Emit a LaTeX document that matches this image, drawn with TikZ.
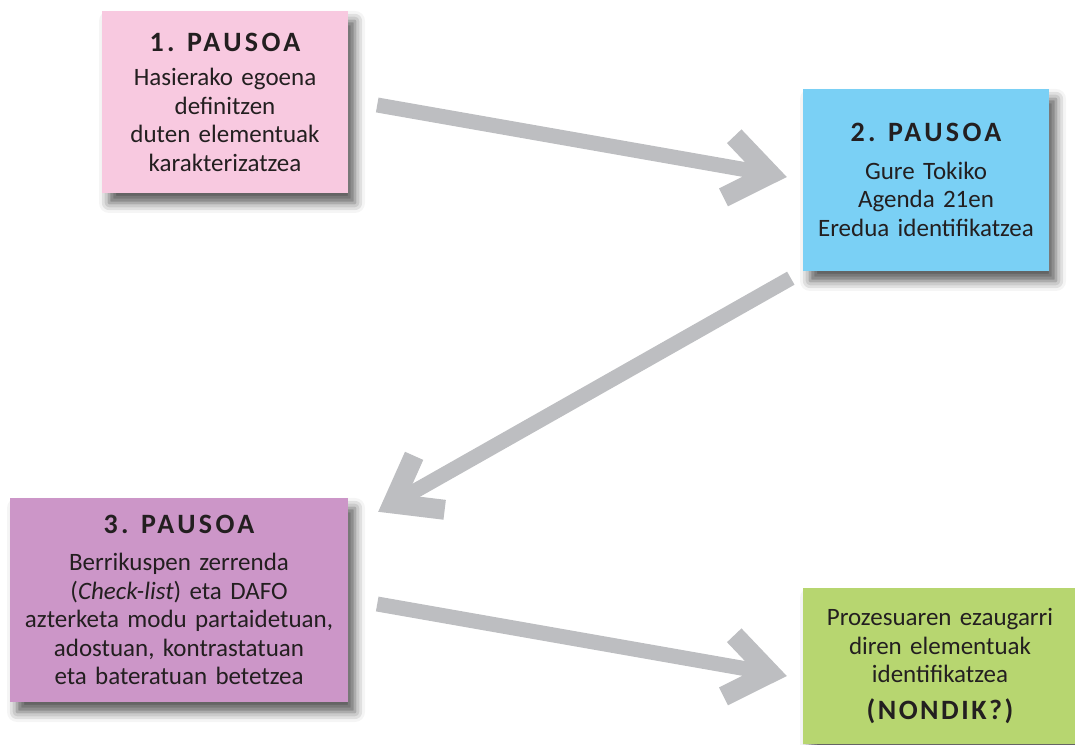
\documentclass[tikz,border=0pt]{standalone}
\usepackage{fontspec}
\setmainfont{Carlito}
\newfontfamily\titlefont[LetterSpace=12]{Carlito}
\newfontfamily\whencefont[LetterSpace=9]{Carlito}
\usetikzlibrary{arrows.meta,shadows.blur}

\definecolor{pausoPink}{HTML}{F8C9E0}
\definecolor{pausoBlue}{HTML}{7AD0F5}
\definecolor{pausoPurple}{HTML}{CC96C8}
\definecolor{pausoGreen}{HTML}{B7D670}
\definecolor{flowGray}{HTML}{BDBEC1}
\definecolor{inkText}{HTML}{231F20}

\newcommand\pausotitle[1]{{\titlefont\bfseries\fontsize{28}{30}\selectfont #1}}

\begin{document}
\begin{tikzpicture}[x=1pt,y=1pt,
    pauso/.style={inner sep=0pt, align=center, text=inkText,
      font=\fontsize{25}{28.5}\selectfont,
      blur shadow={shadow xshift=7pt, shadow yshift=-10pt,
        shadow blur radius=10pt, shadow opacity=65}},
    flow/.style={flowGray, line width=15pt,
      -{Straight Barb[length=42pt, width=62pt, line width=20pt, sharp]}}]
    \useasboundingbox (0,0) rectangle (1075,744);

    % steps
    \node[pauso, fill=pausoPink, text width=246pt, minimum height=182pt]
      (S1) at (225,642)
      {\pausotitle{1. PAUSOA}\\[6pt]
       Hasierako egoena\\definitzen\\duten elementuak\\karakterizatzea};
    \node[pauso, fill=pausoBlue, text width=246pt, minimum height=182pt]
      (S2) at (926,564)
      {\pausotitle{2. PAUSOA}\\[9pt]
       Gure Tokiko\\Agenda 21en\\Eredua identifikatzea};
    \node[pauso, fill=pausoPurple, text width=338pt, minimum height=204pt]
      (S3) at (179,144)
      {\pausotitle{3. PAUSOA}\\[9pt]
       Berrikuspen zerrenda\\(\textit{Check-list}) eta DAFO\\
       azterketa modu partaidetuan,\\adostuan, kontrastatuan\\
       eta bateratuan betetzea};
    \node[pauso, fill=pausoGreen, text width=274pt, minimum height=156pt]
      (S4) at (940,78)
      {Prozesuaren ezaugarri\\diren elementuak\\identifikatzea\\[8pt]
       {\whencefont\bfseries\fontsize{28}{30}\selectfont (NONDIK?)}};

    % connecting arrows
    \draw[flow] ([shift={(29,-3)}]S1.east) -- ([shift={(-16,3)}]S2.west);
    \draw[flow] ([shift={(-12,-7)}]S2.south west)
      -- ([shift={(30,-14)}]S3.north east);
    \draw[flow] ([shift={(29,-4)}]S3.east) -- ([shift={(-16,-10)}]S4.west);
  \end{tikzpicture}
\end{document}
